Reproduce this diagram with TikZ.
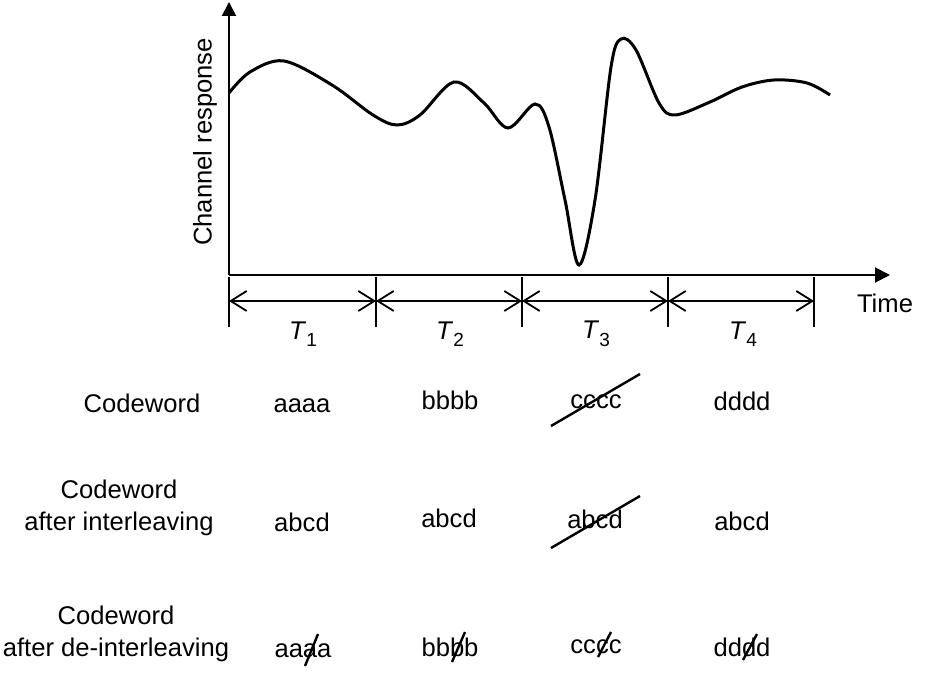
\documentclass[tikz,border=0pt]{standalone}
\usepackage{fontspec}
\setmainfont{Liberation Sans}
\usetikzlibrary{arrows.meta}

\tikzset{
	lbl/.style={font=\fontsize{12.8}{16.2}\selectfont, inner sep=0pt, align=center},
	word/.style={font=\fontsize{12.8}{16.2}\selectfont, inner sep=0pt, anchor=base},
	span/.style={{Straight Barb[length=8pt,width=10pt]}-{Straight Barb[length=8pt,width=10pt]}, line width=0.9pt},
	strike/.style={line width=1.2pt}
}
\newcommand{\Tsub}[1]{\textit{T}\raisebox{-0.55ex}{\fontsize{9.5}{9.5}\selectfont #1}}

\begin{document}
\begin{tikzpicture}[x=0.5pt,y=-0.5pt]
			\useasboundingbox (0,0) rectangle (940,678);
			\coordinate (O) at (229,275);
			\coordinate (ytip) at (229,2);
			\coordinate (xtip) at (890,275);
			\draw[line width=1pt, -{Triangle[length=7pt,width=7pt]}] (O) -- (ytip);
			\draw[line width=1pt, -{Triangle[length=7.5pt,width=7.5pt]}] (O) -- (xtip);
			\node[lbl, rotate=90] (resp) at (205,142) {Channel response};
			\node[lbl] (time) at (885,303) {Time};
			
			\draw[line width=1.5pt] plot[smooth, tension=0.55] coordinates {
				(229,93) (250,72) (284,61) (332,85) (373,115) (397,125) (420,115) (454,82)
				(484,103) (508,128) (535,104) (549,127) (565,200) (579,265) (595,200)
				(611,67) (621,39) (636,50) (659,103) (675,115) (710,102) (742,87)
				(774,80) (807,83) (830,95)};
			
			\foreach \i/\x in {0/229,1/376,2/522,3/668,4/814} {
				\coordinate (t\i) at (\x,277);
				\coordinate (b\i) at (\x,327);
				\coordinate (m\i) at (\x,301);
				\draw[line width=1.3pt] (t\i) -- (b\i);
			}
			\draw[span] (m0) -- (m1);
			\draw[span] (m1) -- (m2);
			\draw[span] (m2) -- (m3);
			\draw[span] (m3) -- (m4);
			\node[lbl] (T1) at (303,334) {\Tsub{1}};
			\node[lbl] (T2) at (450,334) {\Tsub{2}};
			\node[lbl] (T3) at (596,334) {\Tsub{3}};
			\node[lbl] (T4) at (743,334) {\Tsub{4}};
			
			\node[word] (cw) at (142,412) {Codeword};
			\node[word] (cwa) at (302,412) {aaaa};
			\node[word] (cwb) at (450,409) {bbbb};
			\node[word] (cwc) at (596,408) {cccc};
			\node[word] (cwd) at (742,410) {dddd};
			\draw[strike] (551,426) -- (640,374);
			
			\node[lbl] (il) at (119,508) {Codeword\\after interleaving};
			\node[word] (ila) at (302,531) {abcd};
			\node[word] (ilb) at (449,527) {abcd};
			\node[word] (ilc) at (595,528) {abcd};
			\node[word] (ild) at (742,530) {abcd};
			\draw[strike] (551,548) -- (640,496);
			
			\node[lbl] (dil) at (116,634) {Codeword\\after de-interleaving};
			\node[word] (dila) at (303,657) {aaaa};
			\node[word] (dilb) at (450,656) {bbbb};
			\node[word] (dilc) at (596,653) {cccc};
			\node[word] (dild) at (742,656) {dddd};
			\draw[strike] (305,666) -- (318,634);
			\draw[strike] (452,662) -- (465,632);
			\draw[strike] (598,657) -- (611,632);
			\draw[strike] (743,660) -- (757,634);
\end{tikzpicture}
\end{document}
